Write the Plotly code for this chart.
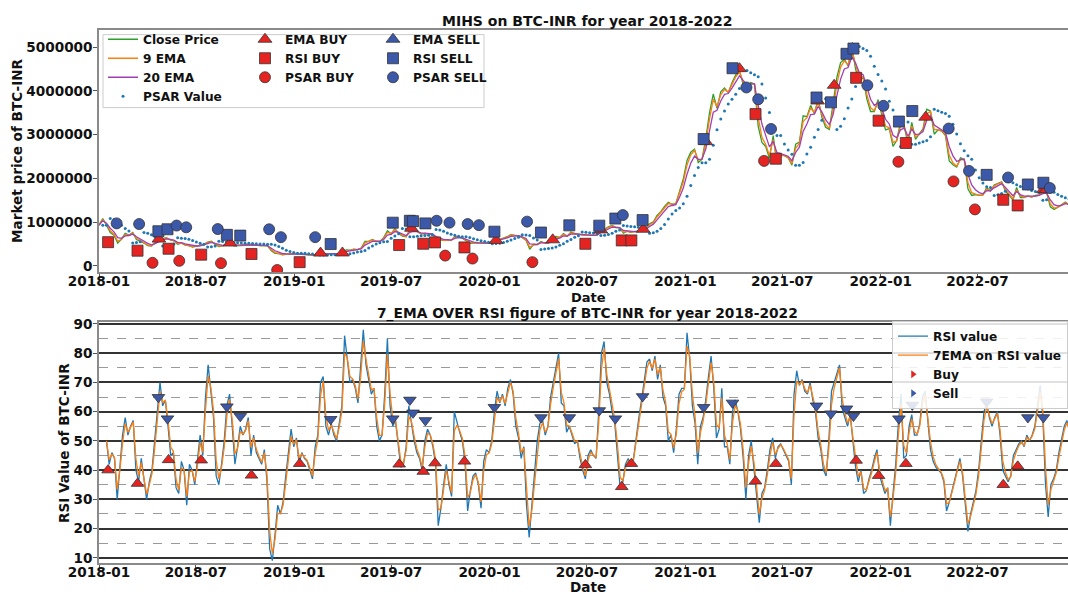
import numpy as np
import pandas as pd
import plotly.graph_objects as go

# Weekly BTC-INR closing price (thousands of INR), Mondays starting 2018-01-01
close_2018 = [930, 1080, 930, 760, 700, 520, 610, 740, 700, 760, 600, 560, 520, 460, 450, 530,
              600, 620, 640, 590, 570, 490, 520, 470, 460, 430, 450, 460, 490, 540, 560, 490,
              440, 455, 490, 520, 455, 460, 475, 480, 480, 475, 475, 460, 465, 455, 345, 285,
              280, 250, 265, 275, 265]
close_2019 = [285, 260, 255, 248, 245, 257, 278, 270, 268, 275, 278, 278, 290, 360, 355, 378,
              370, 405, 560, 560, 600, 560, 555, 645, 800, 730, 850, 740, 680, 665, 830, 810,
              780, 725, 740, 725, 725, 610, 590, 580, 590, 580, 665, 665, 630, 580, 515, 520,
              520, 505, 520, 520]
close_2020 = [560, 580, 615, 635, 665, 710, 695, 690, 640, 585, 375, 490, 485, 555, 520, 525,
              585, 670, 650, 735, 675, 770, 735, 712, 705, 695, 700, 690, 705, 825, 840, 890,
              920, 875, 870, 745, 790, 765, 785, 785, 838, 860, 960, 1005, 1150, 1240, 1360, 1450,
              1405, 1420, 1730, 1985]
close_2021 = [2410, 2600, 2670, 2360, 2440, 2900, 3500, 3930, 3600, 3980, 4070, 3960, 4190, 4370,
              4470, 4140, 4020, 4190, 4160, 3190, 2820, 2730, 2460, 2980, 2330, 2540, 2520, 2470,
              2300, 2780, 2830, 3430, 3410, 3670, 3480, 3820, 3400, 3170, 3120, 3680, 4310, 4650,
              4730, 4570, 5020, 4500, 4200, 4330, 3820, 3530, 3530, 3800]
close_2022 = [3460, 3110, 3140, 2730, 2870, 3290, 3190, 2780, 3280, 2890, 3020, 3130, 3580, 3540,
              3010, 3110, 3080, 2980, 2400, 2310, 2260, 2470, 2440, 1760, 1610, 1630, 1610, 1620,
              1790, 1710, 1850, 1890, 1920, 1710, 1620, 1500, 1790, 1560, 1560, 1600, 1570, 1610,
              1620, 1690, 1680, 1350, 1290, 1340, 1400, 1460, 1390, 1380]

# RSI(14) of BTC-INR, every 5 days starting 2018-01-15
rsi_values = [
    50, 42, 46, 44, 30, 42, 52, 58, 52, 55, 57, 40, 36, 44, 36, 30, 36, 40, 50, 60, 70, 62, 64, 55,
    45, 46, 34, 32, 43, 40, 28, 42, 40, 35, 43, 52, 45, 65, 76, 67, 58, 38, 35, 42, 50, 62, 66, 55,
    42, 48, 55, 52, 54, 58, 45, 52, 46, 44, 42, 47, 36, 13, 9, 18, 28, 25, 29, 38, 46, 54, 48, 51,
    42, 46, 44, 43, 40, 37, 48, 52, 70, 72, 55, 52, 56, 52, 50, 56, 62, 86, 78, 70, 71, 68, 63, 74,
    88, 76, 71, 66, 68, 55, 50, 52, 66, 85, 62, 55, 57, 48, 41, 42, 48, 62, 56, 50, 46, 44, 40, 50,
    54, 52, 48, 42, 21, 27, 35, 42, 35, 31, 60, 56, 53, 50, 43, 26, 33, 38, 39, 35, 27, 43, 47, 46,
    50, 60, 67, 63, 66, 62, 68, 71, 66, 55, 51, 44, 48, 28, 17, 28, 38, 50,
    56, 57, 52, 55, 65, 70, 74, 80, 63, 62, 53, 55, 52, 49, 50, 44, 40, 37, 45, 47, 45, 44, 60, 80,
    84, 70, 66, 60, 56, 46, 34, 36, 42, 44, 42, 44, 52, 58, 64, 70, 77, 78, 74, 79, 71, 76, 65, 62,
    50, 52, 46, 54, 66, 68, 68, 87, 78, 62, 56, 42, 55, 58, 64, 72, 79, 68, 51, 54, 68, 48, 48, 42,
    60, 64, 60, 54, 44, 30, 45, 50, 41, 32, 22, 32, 34, 40, 47, 51, 44, 48, 49, 47, 45, 43, 35, 66,
    74, 69, 71, 67, 66, 70, 64, 60, 51, 47, 40, 38, 50, 67, 70, 73, 76, 61, 58, 55, 59, 49, 41, 36,
    40, 32, 33, 37, 40, 44, 47, 38, 35, 32, 34, 21, 32, 42, 56, 66, 44, 45, 55, 59, 52, 52, 56, 65,
    67, 56, 47, 43, 41, 40, 39, 36, 26, 29, 33, 37, 41, 44, 38, 27, 19, 25, 29, 33, 40, 51, 60, 63,
    58, 55, 58, 60, 52, 40, 38, 36, 38, 45, 47, 49, 50, 48, 52, 50, 52, 55, 62, 69, 58, 35, 24, 35,
    37, 40, 46, 51, 55, 57, 53, 56, 58]

# Trading signals
ema_buy_dates = ["2018-04-23", "2018-09-03", "2019-02-19", "2019-04-01", "2019-08-08", "2020-01-13",
                 "2020-04-28", "2020-07-27", "2020-10-14", "2021-02-08", "2021-04-12", "2021-09-05",
                 "2021-10-06", "2021-11-09", "2022-03-26", "2022-11-01", "2022-11-06"]
ema_buy_price = [610000, 520000, 290000, 293000, 858000, 580000, 594000, 820000, 835000, 2840000,
                 4510000, 3770000, 4130000, 4970000, 3400000, 1740000, 1740000]
ema_sell_dates = []
ema_sell_price = []

rsi_buy_dates = ["2018-01-18", "2018-03-14", "2018-05-11", "2018-07-11", "2018-10-13", "2019-01-11",
                 "2019-07-16", "2019-08-30", "2019-09-21", "2019-11-15", "2020-06-28", "2020-09-04",
                 "2020-09-22", "2021-05-12", "2021-06-19", "2021-11-16", "2021-12-28", "2022-02-17",
                 "2022-08-18", "2022-09-14"]
rsi_buy_price = [540000, 345000, 390000, 255000, 270000, 83000, 474000, 504000, 535000, 420000,
                 503000, 580000, 580000, 3470000, 2450000, 4300000, 3320000, 2810000, 1510000, 1380000]
rsi_buy_level = [40, 35.4, 43.5, 43.4, 38.2, 42.2, 42, 39.5, 42.4, 43, 41.8, 34.3, 42.2, 36.2, 42.2,
                 43.3, 38.1, 42.2, 35, 41.3]

rsi_sell_dates = ["2018-04-22", "2018-05-09", "2018-08-28", "2018-09-22", "2019-03-10", "2019-07-04",
                  "2019-08-05", "2019-08-11", "2019-09-03", "2020-01-10", "2020-04-06", "2020-05-29",
                  "2020-07-24", "2020-08-23", "2020-10-13", "2021-02-04", "2021-03-30", "2021-09-03",
                  "2021-09-30", "2021-10-29", "2021-11-11", "2022-02-04", "2022-03-01", "2022-07-18",
                  "2022-10-03", "2022-11-01"]
rsi_sell_price = [790000, 835000, 707000, 690000, 497000, 986000, 1030000, 1020000, 970000, 780000,
                  760000, 925000, 918000, 1080000, 1045000, 2900000, 4520000, 3850000, 3740000,
                  4850000, 4970000, 3300000, 3540000, 2080000, 1860000, 1900000]
rsi_sell_level = [64.9, 57.6, 61.7, 58.4, 57.4, 57.6, 64, 59.6, 57, 61.5, 58, 58, 60.4, 57.6, 65.2,
                  61.5, 63, 62, 59.3, 61, 58.5, 57.6, 62.3, 63.4, 58, 58]

psar_buy_dates = ["2018-04-11", "2018-05-31", "2018-08-17", "2018-11-30", "2019-10-10", "2019-11-30",
                  "2020-03-21", "2021-05-28", "2022-02-03", "2022-05-17", "2022-06-26"]
psar_buy_price = [68000, 113000, 60000, -97000, 233000, 165000, 83000, 2400000, 2380000, 1930000,
                  1290000]
psar_sell_dates = ["2018-02-03", "2018-03-17", "2018-05-26", "2018-06-13", "2018-08-11", "2018-11-15",
                   "2018-12-07", "2019-02-09", "2019-09-24", "2019-10-18", "2019-11-21", "2019-12-12",
                   "2020-03-11", "2020-09-06", "2021-04-25", "2021-05-17", "2021-06-10", "2021-12-07",
                   "2022-01-06", "2022-05-08", "2022-06-15", "2022-08-27", "2022-11-13"]
psar_sell_price = [970000, 955000, 920000, 880000, 840000, 835000, 655000, 655000, 1030000, 986000,
                   955000, 930000, 1010000, 1160000, 4080000, 3810000, 3130000, 4130000, 3660000,
                   3140000, 2170000, 2020000, 1780000]

price_ticks = [0, 1000000, 2000000, 3000000, 4000000, 5000000]
rsi_major = [10, 20, 30, 40, 50, 60, 70, 80, 90]
rsi_minor = [15, 25, 35, 45, 55, 65, 75, 85]

# ---------------------------------------------------------------- indicators
close = np.array(close_2018 + close_2019 + close_2020 + close_2021 + close_2022, dtype=float) * 1000
week_dates = pd.date_range("2018-01-01", periods=len(close), freq="7D")
close_s = pd.Series(close, index=week_dates)


def ema_days(series, n_days):
    """N-day EMA written as a time-based half-life, so any sampling keeps daily weights."""
    halflife = np.log(0.5) / np.log(1 - 2 / (n_days + 1))
    return series.ewm(halflife=pd.Timedelta(days=halflife), times=series.index).mean()


ema9 = ema_days(close_s, 9)
ema20 = ema_days(close_s, 20)


def parabolic_sar(values, step=0.06, max_step=0.3):
    sar = np.empty(len(values))
    rising = values[1] >= values[0]
    ep = values[0]
    af = step
    sar[0] = values[0]
    for i in range(1, len(values)):
        s = sar[i - 1] + af * (ep - sar[i - 1])
        window = values[max(i - 2, 0):i]
        if rising:
            s = min(s, window.min())
            if values[i] < s:
                rising, s, ep, af = False, ep, values[i], step
            elif values[i] > ep:
                ep, af = values[i], min(af + step, max_step)
        else:
            s = max(s, window.max())
            if values[i] > s:
                rising, s, ep, af = True, ep, values[i], step
            elif values[i] < ep:
                ep, af = values[i], min(af + step, max_step)
        sar[i] = s
    return sar


psar = parabolic_sar(close)

rsi_dates = pd.date_range("2018-01-15", periods=len(rsi_values), freq="5D")
rsi_s = pd.Series(rsi_values, index=rsi_dates, dtype=float)
rsi_ema7 = ema_days(rsi_s, 7)

# ---------------------------------------------------------------- styling
RED = "#e52421"
BLUE = "#3c58a8"
EDGE = dict(color="#333333", width=0.8)
FONT = "DejaVu Sans"
W, H = 1068, 595
L = 99
PW = W - L


def px_x(p):
    return (p - L) / PW


def px_y(p):
    return 1 - p / H


def or_blank(values):
    # an empty signal list still gets its legend key
    return values if len(values) else [None]


fig = go.Figure()

# top panel: price and moving averages
fig.add_trace(go.Scatter(x=week_dates, y=close, mode="lines", name="Close Price",
                         line=dict(color="#2ca02c", width=1.3), legend="legend", legendrank=1))
fig.add_trace(go.Scatter(x=week_dates, y=ema9.values, mode="lines", name="9 EMA",
                         line=dict(color="#ff7f0e", width=1.3), legend="legend", legendrank=2))
fig.add_trace(go.Scatter(x=week_dates, y=ema20.values, mode="lines", name="20 EMA",
                         line=dict(color="#a040b4", width=1.3), legend="legend", legendrank=3))
fig.add_trace(go.Scatter(x=week_dates[1:], y=psar[1:], mode="markers", name="PSAR Value",
                         marker=dict(color="#1f77b4", size=3), legend="legend", legendrank=4))

# buy signals
fig.add_trace(go.Scatter(x=ema_buy_dates, y=ema_buy_price, mode="markers", name="EMA BUY",
                         marker=dict(symbol="triangle-up", size=12, color=RED, line=EDGE),
                         legend="legend2", legendrank=1))
fig.add_trace(go.Scatter(x=rsi_buy_dates, y=rsi_buy_price, mode="markers", name="RSI BUY",
                         marker=dict(symbol="square", size=11, color=RED, line=EDGE),
                         legend="legend2", legendrank=2))
fig.add_trace(go.Scatter(x=psar_buy_dates, y=psar_buy_price, mode="markers", name="PSAR BUY",
                         marker=dict(symbol="circle", size=11, color=RED, line=EDGE),
                         legend="legend2", legendrank=3))
# sell signals
fig.add_trace(go.Scatter(x=or_blank(ema_sell_dates), y=or_blank(ema_sell_price), mode="markers",
                         name="EMA SELL",
                         marker=dict(symbol="triangle-up", size=12, color=BLUE, line=EDGE),
                         legend="legend3", legendrank=1))
fig.add_trace(go.Scatter(x=rsi_sell_dates, y=rsi_sell_price, mode="markers", name="RSI SELL",
                         marker=dict(symbol="square", size=11, color=BLUE, line=EDGE),
                         legend="legend3", legendrank=2))
fig.add_trace(go.Scatter(x=psar_sell_dates, y=psar_sell_price, mode="markers", name="PSAR SELL",
                         marker=dict(symbol="circle", size=11, color=BLUE, line=EDGE),
                         legend="legend3", legendrank=3))

# bottom panel: RSI with its 7-period EMA
fig.add_trace(go.Scatter(x=rsi_dates, y=rsi_s.values, mode="lines", name="RSI value",
                         line=dict(color="#1f77b4", width=1.3), xaxis="x2", yaxis="y2",
                         legend="legend4", legendrank=1))
fig.add_trace(go.Scatter(x=rsi_dates, y=rsi_ema7.values, mode="lines", name="7EMA on RSI value",
                         line=dict(color="#ff7f0e", width=1.3), xaxis="x2", yaxis="y2",
                         legend="legend4", legendrank=2))
fig.add_trace(go.Scatter(x=rsi_buy_dates, y=rsi_buy_level, mode="markers", name="Buy",
                         marker=dict(symbol="triangle-up", size=11, color=RED, line=EDGE),
                         xaxis="x2", yaxis="y2", showlegend=False))
fig.add_trace(go.Scatter(x=rsi_sell_dates, y=rsi_sell_level, mode="markers", name="Sell",
                         marker=dict(symbol="triangle-down", size=11, color=BLUE, line=EDGE),
                         xaxis="x2", yaxis="y2", showlegend=False))
# legend keys for the signal markers
fig.add_trace(go.Scatter(x=[None], y=[None], mode="markers", name="Buy",
                         marker=dict(symbol="triangle-right", size=7, color=RED),
                         xaxis="x2", yaxis="y2", legend="legend4", legendrank=3))
fig.add_trace(go.Scatter(x=[None], y=[None], mode="markers", name="Sell",
                         marker=dict(symbol="triangle-right", size=7, color=BLUE),
                         xaxis="x2", yaxis="y2", legend="legend4", legendrank=4))

x_range = ["2018-01-01", "2022-12-17"]
axis_line = dict(showline=True, linecolor="#8a8a8a", linewidth=1.5, ticks="outside",
                 ticklen=4, tickcolor="#555555", zeroline=False)
xcommon = dict(type="date", range=x_range, tickformat="%Y-%m", dtick="M6",
               tick0="2018-01-01", mirror=True, showgrid=False, ticklabelstandoff=-8,
               **axis_line)

leg_common = dict(font=dict(size=12.2, family=FONT, weight="bold", color="#111111"),
                  orientation="v", traceorder="normal", bgcolor="rgba(0,0,0,0)",
                  borderwidth=0, xanchor="left", yanchor="top", itemwidth=30)

fig.update_layout(
    width=W, height=H,
    margin=dict(l=L, r=0, t=0, b=0),
    paper_bgcolor="white", plot_bgcolor="white",
    font=dict(family=FONT, size=13.6, color="#111111", weight="bold"),
    showlegend=True,
    xaxis=dict(domain=[0, 1], anchor="y", **xcommon),
    yaxis=dict(domain=[px_y(270), px_y(24)], anchor="x", range=[-151000, 5402000],
               tickvals=price_ticks, tickformat="d", showgrid=False, ticklabelstandoff=-2,
               **axis_line),
    xaxis2=dict(domain=[0, 1], anchor="y2", **xcommon),
    yaxis2=dict(domain=[px_y(565), px_y(320)], anchor="x2", range=[8.08, 90.78],
                tickvals=rsi_major, showgrid=True, gridcolor="#333333", gridwidth=1.7,
                minor=dict(tickvals=rsi_minor, showgrid=True, gridcolor="#9a9a9a",
                           griddash="dash", gridwidth=1.1, ticks=""),
                ticklabelstandoff=-2, **axis_line),
    legend=dict(x=px_x(103), y=px_y(19), **leg_common),
    legend2=dict(x=px_x(245), y=px_y(19), **leg_common),
    legend3=dict(x=px_x(373), y=px_y(19), **leg_common),
    legend4=dict(x=px_x(892), y=px_y(319), **{**leg_common,
                 "bgcolor": "rgba(255,255,255,0.85)", "bordercolor": "#cccccc",
                 "borderwidth": 1}),
    shapes=[dict(type="rect", xref="paper", yref="paper", x0=px_x(103), x1=px_x(484),
                 y0=px_y(103), y1=px_y(29), line=dict(color="#cccccc", width=1),
                 fillcolor="rgba(255,255,255,0.85)", layer="above")],
    annotations=[
        dict(text="MIHS on BTC-INR for year 2018-2022", x=px_x(587), y=px_y(15),
             xref="paper", yref="paper", showarrow=False, xanchor="center", yanchor="middle",
             font=dict(size=14)),
        dict(text="7_EMA OVER RSI figure of BTC-INR for year 2018-2022", x=px_x(587), y=px_y(312),
             xref="paper", yref="paper", showarrow=False, xanchor="center", yanchor="middle",
             font=dict(size=13.8)),
        dict(text="Date", x=px_x(588), y=px_y(295.5), xref="paper", yref="paper", showarrow=False,
             xanchor="center", yanchor="middle", font=dict(size=13)),
        dict(text="Date", x=px_x(588), y=px_y(589), xref="paper", yref="paper", showarrow=False,
             xanchor="center", yanchor="middle", font=dict(size=13.6)),
        dict(text="Market price of BTC-INR", x=px_x(17), y=px_y(147), xref="paper", yref="paper",
             showarrow=False, textangle=-90, xanchor="center", yanchor="middle",
             font=dict(size=13.6)),
        dict(text="RSI Value of BTC-INR", x=px_x(64), y=px_y(443), xref="paper", yref="paper",
             showarrow=False, textangle=-90, xanchor="center", yanchor="middle",
             font=dict(size=13.6)),
    ],
)

fig.write_html("out.html")
